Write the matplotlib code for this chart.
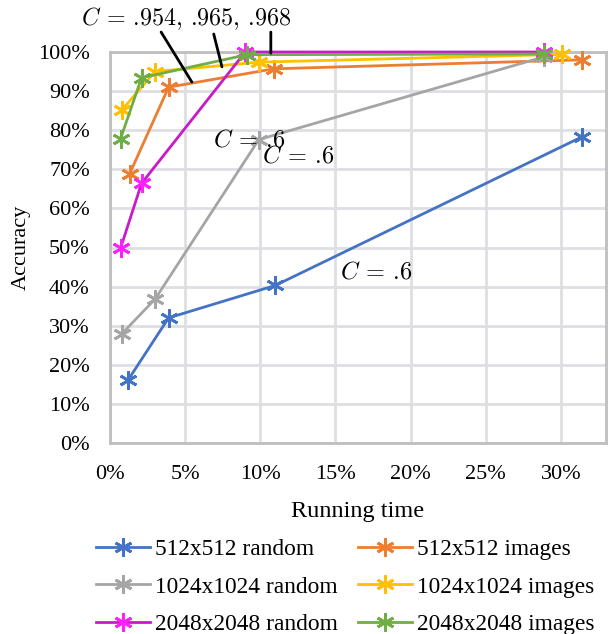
import matplotlib
matplotlib.use("Agg")
import matplotlib.pyplot as plt
from matplotlib.ticker import PercentFormatter, MultipleLocator

plt.rcParams['font.family'] = ['Liberation Serif', 'DejaVu Serif']
plt.rcParams['mathtext.fontset'] = 'cm'

# Running time (%) and accuracy (%) per series
labels = ["512x512 random", "512x512 images", "1024x1024 random",
          "1024x1024 images", "2048x2048 random", "2048x2048 images"]
x_512_random = [1.2, 3.9, 11.0, 31.4]
y_512_random = [16.1, 32.0, 40.3, 78.3]
x_512_images = [1.3, 3.9, 10.9, 31.4]
y_512_images = [68.8, 91.0, 95.7, 98.0]
x_1024_random = [0.8, 3.0, 9.9, 28.9]
y_1024_random = [28.0, 36.8, 77.6, 98.8]
x_1024_images = [0.8, 3.0, 9.9, 30.1]
y_1024_images = [85.2, 95.0, 97.4, 99.4]
x_2048_random = [0.7, 2.1, 9.0, 28.9]
y_2048_random = [49.8, 66.4, 100.0, 100.0]
x_2048_images = [0.7, 2.1, 9.1, 28.9]
y_2048_images = [77.8, 93.4, 99.3, 99.5]

xs = [x_512_random, x_512_images, x_1024_random, x_1024_images, x_2048_random, x_2048_images]
ys = [y_512_random, y_512_images, y_1024_random, y_1024_images, y_2048_random, y_2048_images]
line_colors = ["#4472C4", "#ED7D31", "#A5A5A5", "#FFC000", "#C71BC7", "#70AD47"]
marker_colors = ["#4472C4", "#ED7D31", "#A5A5A5", "#FFC000", "#FF1FFF", "#70AD47"]

fig = plt.figure(figsize=(6.11, 6.34), dpi=100)
ax = fig.add_axes([110/611, 1-443/634, (606-110)/611, (443-52)/634])

handles = []
for x, y, lc, mc, lab in zip(xs, ys, line_colors, marker_colors, labels):
    h, = ax.plot(x, y, color=lc, lw=2, marker=(6, 2, 0), ms=13, mew=2,
                 mec=mc, mfc=mc, label=lab, clip_on=False, zorder=3)
    handles.append(h)

ax.set_xlim(0, 33)
ax.set_ylim(0, 100)
ax.xaxis.set_major_locator(MultipleLocator(5))
ax.yaxis.set_major_locator(MultipleLocator(10))
ax.xaxis.set_major_formatter(PercentFormatter(decimals=0))
ax.yaxis.set_major_formatter(PercentFormatter(decimals=0))
ax.grid(True, color="#DDDFE3", lw=2)
ax.set_axisbelow(True)
for s in ax.spines.values():
    s.set_color("#BFBFBF")
    s.set_linewidth(2)
ax.tick_params(length=0, labelsize=16)
ax.tick_params(axis="y", pad=14.5)
ax.tick_params(axis="x", pad=16)
ax.set_xlabel("Running time", fontsize=17.5, labelpad=12)
ax.set_ylabel("Accuracy", fontsize=16, labelpad=5)

# annotations
ax.text(5.05, 108.5, r"$C$ = .954, .965, .968", family="cmr10", fontsize=17.3,
        ha="center", va="center", clip_on=False)
arrow = dict(arrowstyle="-", color="black", lw=2, shrinkA=0, shrinkB=0)
ax.annotate("", xy=(5.45, 92.3), xytext=(3.4, 105.1), arrowprops=arrow, annotation_clip=False)
ax.annotate("", xy=(7.45, 96.2), xytext=(6.9, 104.6), arrowprops=arrow, annotation_clip=False)
ax.annotate("", xy=(10.7, 99.7), xytext=(10.7, 105.1), arrowprops=arrow, annotation_clip=False)
ax.text(6.85, 77.5, r"$C$ = .6", family="cmr10", fontsize=17.5, ha="left", va="center")
ax.text(10.1, 73.4, r"$C$ = .6", family="cmr10", fontsize=17.5, ha="left", va="center")
ax.text(15.3, 43.5, r"$C$ = .6", family="cmr10", fontsize=17.5, ha="left", va="center")

order = [0, 2, 4, 1, 3, 5]
leg = fig.legend([handles[i] for i in order], [labels[i] for i in order],
                 loc="upper center", bbox_to_anchor=(0.565, 1-518/634), ncol=2,
                 frameon=False, fontsize=16.8, handlelength=2.3, handletextpad=0.2,
                 columnspacing=0.9, labelspacing=0.68)

fig.savefig("out.png", dpi=100)
